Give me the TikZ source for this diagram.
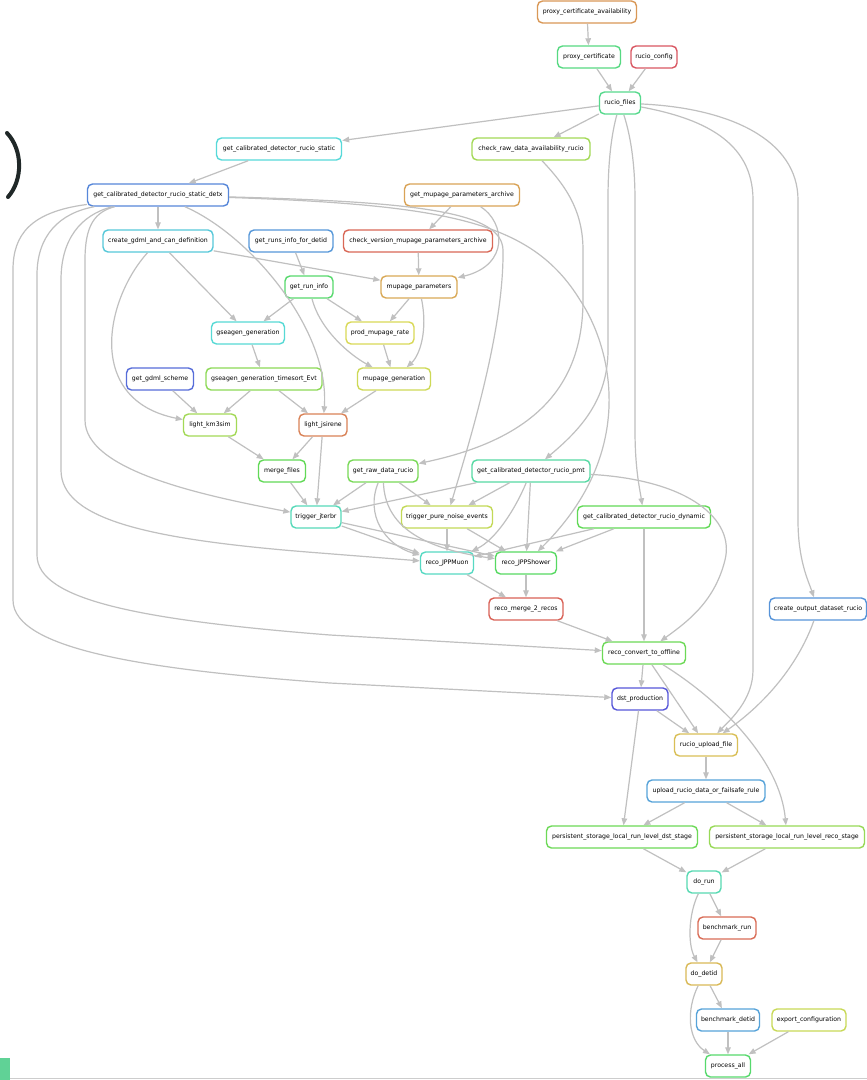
\documentclass[tikz,border=0pt]{standalone}
\usepackage{fontspec}
\setmainfont{DejaVu Sans}
\usetikzlibrary{arrows.meta}
\definecolor{eg}{RGB}{192,192,192}
\definecolor{hpca}{RGB}{217,152,87}
\definecolor{hpc}{RGB}{87,217,130}
\definecolor{hrcfg}{RGB}{217,87,98}
\definecolor{hrf}{RGB}{87,217,141}
\definecolor{hgcs}{RGB}{87,217,217}
\definecolor{hcrd}{RGB}{163,217,87}
\definecolor{hdetx}{RGB}{87,135,217}
\definecolor{hgma}{RGB}{217,163,87}
\definecolor{hcgd}{RGB}{87,200,217}
\definecolor{hgri}{RGB}{87,152,217}
\definecolor{hcvm}{RGB}{217,104,87}
\definecolor{hgrinfo}{RGB}{87,217,109}
\definecolor{hmpp}{RGB}{217,169,87}
\definecolor{hgsg}{RGB}{87,217,213}
\definecolor{hpmr}{RGB}{217,217,87}
\definecolor{hggs}{RGB}{87,109,217}
\definecolor{hgst}{RGB}{141,217,87}
\definecolor{hmg}{RGB}{206,217,87}
\definecolor{hlk}{RGB}{163,217,87}
\definecolor{hlj}{RGB}{217,130,87}
\definecolor{hmf}{RGB}{98,217,87}
\definecolor{hgrd}{RGB}{120,217,87}
\definecolor{hpmt}{RGB}{87,217,163}
\definecolor{htj}{RGB}{87,217,185}
\definecolor{htpn}{RGB}{195,217,87}
\definecolor{hdyn}{RGB}{98,217,87}
\definecolor{hmu}{RGB}{87,217,195}
\definecolor{hsh}{RGB}{87,217,98}
\definecolor{hrm}{RGB}{217,98,87}
\definecolor{hcod}{RGB}{87,148,217}
\definecolor{hrco}{RGB}{109,217,87}
\definecolor{hdst}{RGB}{87,87,217}
\definecolor{hruf}{RGB}{217,191,87}
\definecolor{hurd}{RGB}{87,163,217}
\definecolor{hpsd}{RGB}{109,217,87}
\definecolor{hpsr}{RGB}{152,217,87}
\definecolor{hdorun}{RGB}{87,217,178}
\definecolor{hbmr}{RGB}{217,109,87}
\definecolor{hdodet}{RGB}{217,185,87}
\definecolor{hbmd}{RGB}{87,163,217}
\definecolor{hexc}{RGB}{200,217,87}
\definecolor{hpall}{RGB}{87,217,109}
\definecolor{inkdark}{RGB}{32,40,40}
\definecolor{tabgreen}{RGB}{96,210,150}
\definecolor{footgrey}{RGB}{205,205,205}
\begin{document}
\begin{tikzpicture}[x=1pt,y=1pt,
  box/.style={draw, rounded corners=5pt, line width=1.4pt, fill=white,
    minimum height=22pt, inner xsep=4pt, inner ysep=0pt,
    font=\fontsize{6.2}{7}\selectfont},
  edge/.style={draw=eg, line width=1.2pt,
    -{Triangle[length=7pt,width=5.5pt]}}]
\fill[white] (0,0) rectangle (867,-1080);
\useasboundingbox (0,0) rectangle (867,-1080);

% artefacts of the screenshot
\draw[inkdark, line width=4pt, line cap=round] (7,-133) .. controls (23,-150) and (23,-180) .. (8,-197);
\fill[tabgreen] (0,-1058) rectangle (10,-1080);
\draw[footgrey, line width=1.5pt] (10,-1078.5) -- (867,-1078.5);

% nodes
\node[box,draw=hpca,minimum width=99pt] (pca) at (587,-12) {proxy\_certificate\_availability};
\node[box,draw=hpc,minimum width=63pt] (pc) at (589,-57) {proxy\_certificate};
\node[box,draw=hrcfg,minimum width=46pt] (rcfg) at (654,-57) {rucio\_config};
\node[box,draw=hrf,minimum width=41pt] (rf) at (620,-103) {rucio\_files};
\node[box,draw=hgcs,minimum width=125pt] (gcs) at (279,-149) {get\_calibrated\_detector\_rucio\_static};
\node[box,draw=hcrd,minimum width=118pt] (crd) at (531,-149) {check\_raw\_data\_availability\_rucio};
\node[box,draw=hdetx,minimum width=141pt] (detx) at (158,-195) {get\_calibrated\_detector\_rucio\_static\_detx};
\node[box,draw=hgma,minimum width=115pt] (gma) at (462,-195) {get\_mupage\_parameters\_archive};
\node[box,draw=hcgd,minimum width=110pt] (cgd) at (158,-241) {create\_gdml\_and\_can\_definition};
\node[box,draw=hgri,minimum width=84pt] (gri) at (291,-241) {get\_runs\_info\_for\_detid};
\node[box,draw=hcvm,minimum width=149pt] (cvm) at (418,-241) {check\_version\_mupage\_parameters\_archive};
\node[box,draw=hgrinfo,minimum width=48pt] (grinfo) at (309,-287) {get\_run\_info};
\node[box,draw=hmpp,minimum width=76pt] (mpp) at (419,-287) {mupage\_parameters};
\node[box,draw=hgsg,minimum width=73pt] (gsg) at (248,-333) {gseagen\_generation};
\node[box,draw=hpmr,minimum width=68pt] (pmr) at (380,-333) {prod\_mupage\_rate};
\node[box,draw=hggs,minimum width=67pt] (ggs) at (160,-379) {get\_gdml\_scheme};
\node[box,draw=hgst,minimum width=116pt] (gst) at (264,-379) {gseagen\_generation\_timesort\_Evt};
\node[box,draw=hmg,minimum width=73pt] (mg) at (394,-379) {mupage\_generation};
\node[box,draw=hlk,minimum width=53pt] (lk) at (210,-425) {light\_km3sim};
\node[box,draw=hlj,minimum width=48pt] (lj) at (323,-425) {light\_jsirene};
\node[box,draw=hmf,minimum width=47pt] (mf) at (282,-471) {merge\_files};
\node[box,draw=hgrd,minimum width=70pt] (grd) at (383,-471) {get\_raw\_data\_rucio};
\node[box,draw=hpmt,minimum width=118pt] (pmt) at (531,-471) {get\_calibrated\_detector\_rucio\_pmt};
\node[box,draw=htj,minimum width=50pt] (tj) at (316,-517) {trigger\_jterbr};
\node[box,draw=htpn,minimum width=91pt] (tpn) at (447,-517) {trigger\_pure\_noise\_events};
\node[box,draw=hdyn,minimum width=133pt] (dyn) at (644,-517) {get\_calibrated\_detector\_rucio\_dynamic};
\node[box,draw=hmu,minimum width=53pt] (mu) at (447,-563) {reco\_JPPMuon};
\node[box,draw=hsh,minimum width=61pt] (sh) at (526,-563) {reco\_JPPShower};
\node[box,draw=hrm,minimum width=74pt] (rm) at (526,-609) {reco\_merge\_2\_recos};
\node[box,draw=hcod,minimum width=97pt] (cod) at (818,-609) {create\_output\_dataset\_rucio};
\node[box,draw=hrco,minimum width=83pt] (rco) at (644,-653) {reco\_convert\_to\_offline};
\node[box,draw=hdst,minimum width=56pt] (dst) at (640,-699) {dst\_production};
\node[box,draw=hruf,minimum width=63pt] (ruf) at (706,-745) {rucio\_upload\_file};
\node[box,draw=hurd,minimum width=118pt] (urd) at (706,-791) {upload\_rucio\_data\_or\_failsafe\_rule};
\node[box,draw=hpsd,minimum width=151pt] (psd) at (622,-837) {persistent\_storage\_local\_run\_level\_dst\_stage};
\node[box,draw=hpsr,minimum width=155pt] (psr) at (787,-837) {persistent\_storage\_local\_run\_level\_reco\_stage};
\node[box,draw=hdorun,minimum width=34pt] (dorun) at (704,-882) {do\_run};
\node[box,draw=hbmr,minimum width=58pt] (bmr) at (727,-928) {benchmark\_run};
\node[box,draw=hdodet,minimum width=36pt] (dodet) at (704,-974) {do\_detid};
\node[box,draw=hbmd,minimum width=63pt] (bmd) at (728,-1020) {benchmark\_detid};
\node[box,draw=hexc,minimum width=74pt] (exc) at (809,-1020) {export\_configuration};
\node[box,draw=hpall,minimum width=45pt] (pall) at (728,-1066) {process\_all};

% edges
\draw[edge] (pca) -- (pc);
\draw[edge] (pc) -- (rf);
\draw[edge] (rcfg) -- (rf);
\draw[edge] (rf) -- (gcs);
\draw[edge] (rf) -- (crd);
\draw[edge] (rf) .. controls (610,-140) and (608,-170) .. (608,-200) -- (608,-350) .. controls (608,-400) and (580,-430) .. (pmt);
\draw[edge] (rf) .. controls (632,-140) and (635,-170) .. (635,-200) -- (635,-430) .. controls (635,-470) and (640,-490) .. (dyn);
\draw[edge] (rf) .. controls (700,-118) and (753,-140) .. (753,-200) -- (753,-670) .. controls (753,-700) and (730,-720) .. (ruf);
\draw[edge] (rf) .. controls (730,-108) and (798,-140) .. (798,-200) -- (798,-520) .. controls (798,-560) and (808,-580) .. (cod);
\draw[edge] (gcs) -- (detx);
\draw[edge] (crd) .. controls (565,-185) and (583,-210) .. (583,-250) -- (583,-300) .. controls (583,-390) and (530,-440) .. (grd);
\draw[edge] (detx) -- (cgd);
\draw[edge] (detx) .. controls (250,-235) and (330,-330) .. (lj);
\draw[edge] (detx) .. controls (420,-202) and (502,-212) .. (503,-250) .. controls (504,-330) and (470,-440) .. (tpn);
\draw[edge] (detx) .. controls (450,-205) and (532,-222) .. (580,-300) .. controls (610,-345) and (640,-450) .. (sh);
\draw[edge] (detx) .. controls (95,-212) and (85,-225) .. (85,-260) -- (85,-420) .. controls (85,-470) and (200,-495) .. (tj);
\draw[edge] (detx) .. controls (80,-215) and (61,-240) .. (61,-280) -- (61,-470) .. controls (61,-520) and (150,-540) .. (320,-553) -- (mu);
\draw[edge] (detx) .. controls (60,-213) and (37,-235) .. (37,-275) -- (37,-555) .. controls (37,-600) and (140,-620) .. (330,-635) -- (rco);
\draw[edge] (detx) .. controls (30,-212) and (13,-235) .. (13,-270) -- (13,-600) .. controls (13,-650) and (150,-670) .. (330,-683) -- (dst);
\draw[edge] (gma) -- (cvm);
\draw[edge] (gma) .. controls (505,-222) and (510,-265) .. (mpp);
\draw[edge] (cvm) -- (mpp);
\draw[edge] (cgd) -- (mpp);
\draw[edge] (cgd) -- (gsg);
\draw[edge] (cgd) .. controls (105,-300) and (85,-400) .. (lk);
\draw[edge] (gri) -- (grinfo);
\draw[edge] (grinfo) -- (gsg);
\draw[edge] (grinfo) -- (pmr);
\draw[edge] (grinfo) .. controls (320,-330) and (350,-355) .. (mg);
\draw[edge] (mpp) -- (pmr);
\draw[edge] (mpp) .. controls (428,-330) and (420,-355) .. (mg);
\draw[edge] (pmr) -- (mg);
\draw[edge] (gsg) -- (gst);
\draw[edge] (gst) -- (lk);
\draw[edge] (gst) -- (lj);
\draw[edge] (ggs) -- (lk);
\draw[edge] (mg) -- (lj);
\draw[edge] (lk) -- (mf);
\draw[edge] (lj) -- (mf);
\draw[edge] (lj) -- (tj);
\draw[edge] (mf) -- (tj);
\draw[edge] (grd) -- (tj);
\draw[edge] (grd) -- (tpn);
\draw[edge] (grd) .. controls (365,-515) and (385,-545) .. (mu);
\draw[edge] (grd) .. controls (385,-525) and (420,-548) .. (sh);
\draw[edge] (pmt) -- (tj);
\draw[edge] (pmt) -- (tpn);
\draw[edge] (pmt) .. controls (515,-510) and (495,-540) .. (mu);
\draw[edge] (pmt) -- (sh);
\draw[edge] (pmt) .. controls (690,-480) and (735,-520) .. (725,-560) .. controls (715,-600) and (690,-620) .. (rco);
\draw[edge] (tj) -- (mu);
\draw[edge] (tj) -- (sh);
\draw[edge] (tpn) -- (mu);
\draw[edge] (tpn) -- (sh);
\draw[edge] (dyn) -- (mu);
\draw[edge] (dyn) -- (sh);
\draw[edge] (dyn) -- (rco);
\draw[edge] (mu) -- (rm);
\draw[edge] (sh) -- (rm);
\draw[edge] (rm) -- (rco);
\draw[edge] (rco) -- (dst);
\draw[edge] (rco) -- (ruf);
\draw[edge] (rco) .. controls (720,-700) and (780,-760) .. (psr);
\draw[edge] (dst) -- (ruf);
\draw[edge] (dst) -- (psd);
\draw[edge] (cod) .. controls (800,-660) and (770,-700) .. (ruf);
\draw[edge] (ruf) -- (urd);
\draw[edge] (urd) -- (psd);
\draw[edge] (urd) -- (psr);
\draw[edge] (psd) -- (dorun);
\draw[edge] (psr) -- (dorun);
\draw[edge] (dorun) -- (bmr);
\draw[edge] (dorun) .. controls (688,-915) and (688,-945) .. (dodet);
\draw[edge] (bmr) -- (dodet);
\draw[edge] (dodet) -- (bmd);
\draw[edge] (dodet) .. controls (686,-1010) and (688,-1040) .. (pall);
\draw[edge] (bmd) -- (pall);
\draw[edge] (exc) -- (pall);
\end{tikzpicture}
\end{document}
